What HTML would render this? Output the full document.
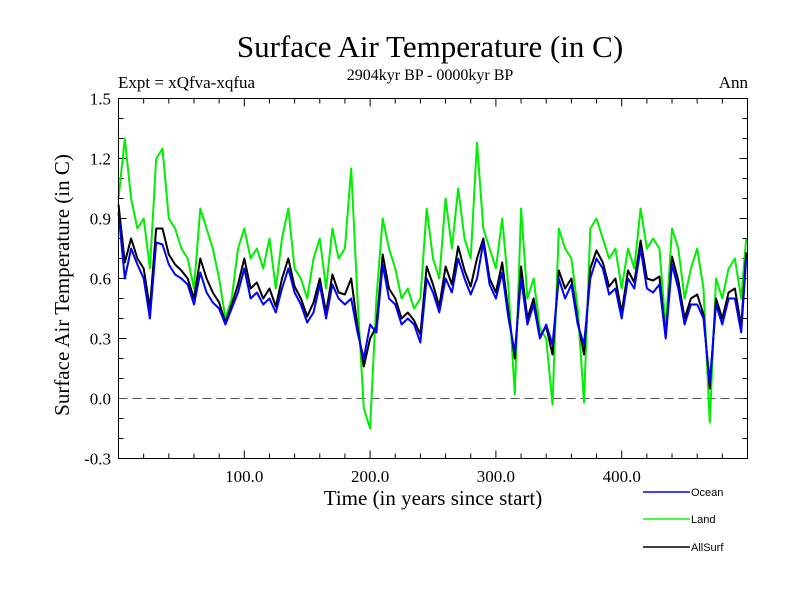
<!DOCTYPE html>
<html><head><meta charset="utf-8"><style>
body{margin:0;background:#fff;}
svg{display:block;}
.serif{font-family:"Liberation Serif",serif;fill:#000;}
.sans{font-family:"Liberation Sans",sans-serif;fill:#000;}
</style></head><body>
<svg id="chart" width="800" height="600" viewBox="0 0 800 600">
<text class="serif" x="430" y="57" font-size="31" text-anchor="middle">Surface Air Temperature (in C)</text>
<text class="serif" x="118" y="88" font-size="17">Expt = xQfva-xqfua</text>
<text class="serif" x="430" y="80" font-size="16" text-anchor="middle">2904kyr BP - 0000kyr BP</text>
<text class="serif" x="748" y="88" font-size="17" text-anchor="end">Ann</text>
<text class="serif" x="0" y="0" font-size="21" text-anchor="middle" transform="translate(69,285) rotate(-90)">Surface Air Temperature (in C)</text>
<text class="serif" x="433" y="505" font-size="21" text-anchor="middle">Time (in years since start)</text>
<g id="ticks"></g>
<g id="series"></g>
<rect x="118.5" y="98.5" width="629" height="360" fill="none" stroke="#000" stroke-width="1"/>
<g>
<line x1="643" y1="492" x2="690" y2="492" stroke="#0000ff" stroke-width="1.5"/>
<text class="sans" x="691" y="496" font-size="11">Ocean</text>
<line x1="643" y1="519" x2="690" y2="519" stroke="#00ff00" stroke-width="1.5"/>
<text class="sans" x="691" y="523" font-size="11">Land</text>
<line x1="643" y1="547" x2="690" y2="547" stroke="#000" stroke-width="1.5"/>
<text class="sans" x="691" y="551" font-size="11">AllSurf</text>
</g>
</svg>
<script>
const years = [0,5,10,15,20,25,30,35,40,45,50,55,60,65,70,75,80,85,90,95,100,105,110,115,120,125,130,135,140,145,150,155,160,165,170,175,180,185,190,195,200,205,210,215,220,225,230,235,240,245,250,255,260,265,270,275,280,285,290,295,300,305,310,315,320,325,330,335,340,345,350,355,360,365,370,375,380,385,390,395,400,405,410,415,420,425,430,435,440,445,450,455,460,465,470,475,480,485,490,495,499];
const ocean = [0.93,0.6,0.75,0.67,0.6,0.4,0.78,0.77,0.67,0.62,0.6,0.57,0.47,0.63,0.53,0.48,0.45,0.37,0.45,0.53,0.65,0.5,0.53,0.47,0.5,0.43,0.55,0.65,0.53,0.47,0.38,0.43,0.57,0.4,0.57,0.5,0.47,0.5,0.33,0.2,0.37,0.33,0.67,0.5,0.47,0.37,0.4,0.37,0.28,0.6,0.53,0.43,0.6,0.53,0.7,0.6,0.52,0.6,0.78,0.57,0.5,0.63,0.4,0.23,0.6,0.37,0.47,0.3,0.37,0.27,0.6,0.5,0.57,0.37,0.27,0.6,0.7,0.65,0.52,0.55,0.4,0.6,0.55,0.75,0.55,0.53,0.57,0.3,0.67,0.55,0.37,0.47,0.47,0.4,0.08,0.47,0.37,0.5,0.5,0.33,0.7];
const land = [1.0,1.3,1.0,0.85,0.9,0.65,1.2,1.25,0.9,0.85,0.75,0.7,0.55,0.95,0.85,0.75,0.6,0.4,0.5,0.75,0.85,0.7,0.75,0.65,0.8,0.55,0.8,0.95,0.65,0.6,0.5,0.7,0.8,0.55,0.85,0.7,0.75,1.15,0.5,-0.05,-0.15,0.5,0.9,0.75,0.65,0.5,0.55,0.45,0.5,0.95,0.7,0.6,1.0,0.75,1.05,0.8,0.7,1.28,0.85,0.75,0.65,0.9,0.55,0.02,0.95,0.5,0.6,0.35,0.3,-0.03,0.85,0.75,0.7,0.45,-0.02,0.85,0.9,0.8,0.7,0.75,0.55,0.75,0.65,0.95,0.75,0.8,0.75,0.35,0.85,0.75,0.5,0.65,0.75,0.55,-0.12,0.6,0.5,0.65,0.7,0.5,0.8];
const allsurf = [0.97,0.68,0.8,0.7,0.65,0.45,0.85,0.85,0.72,0.67,0.64,0.6,0.5,0.7,0.6,0.53,0.48,0.38,0.47,0.57,0.7,0.55,0.58,0.5,0.55,0.46,0.6,0.7,0.56,0.5,0.41,0.48,0.6,0.43,0.62,0.53,0.52,0.6,0.36,0.16,0.3,0.36,0.72,0.55,0.5,0.4,0.43,0.39,0.32,0.66,0.57,0.46,0.66,0.57,0.76,0.64,0.56,0.7,0.8,0.6,0.53,0.68,0.43,0.2,0.66,0.4,0.5,0.31,0.36,0.22,0.64,0.55,0.6,0.39,0.22,0.65,0.74,0.68,0.56,0.6,0.43,0.64,0.58,0.79,0.6,0.59,0.61,0.31,0.71,0.59,0.4,0.5,0.52,0.42,0.05,0.5,0.4,0.53,0.55,0.36,0.73];
const yTicks = [-0.3,0.0,0.3,0.6,0.9,1.2,1.5];
const yTickLabels = ["-0.3","0.0","0.3","0.6","0.9","1.2","1.5"];
const xTicks = [100,200,300,400];
const xTickLabels = ["100.0","200.0","300.0","400.0"];

const X0=118.5,X1=747.5,Y0=458.5,Y1=98.5;
const xs = v => X0 + (v-0)/(500-0)*(X1-X0);
const ys = v => Y0 - (v+0.3)/(1.8)*(Y0-Y1);
const NS="http://www.w3.org/2000/svg";
const tg=document.getElementById('ticks');
function ln(x1,y1,x2,y2,stroke,w,dash){
  const l=document.createElementNS(NS,'line');
  l.setAttribute('x1',x1);l.setAttribute('y1',y1);l.setAttribute('x2',x2);l.setAttribute('y2',y2);
  l.setAttribute('stroke',stroke);l.setAttribute('stroke-width',w);
  if(dash)l.setAttribute('stroke-dasharray',dash);
  return l;
}
// y minor ticks every 0.1
for(let i=-3;i<=15;i++){
  const v=i/10, y=ys(v), major=(i%3===0);
  const len=major?8:5;
  const a=ln(X0,y,X0+len,y,'#000',1);
  
  
  tg.appendChild(a);
  const b=ln(X1,y,X1-len,y,'#000',1);
  
  
  tg.appendChild(b);
}
for(let yr=20;yr<500;yr+=20){
  const x=xs(yr), major=(yr%100===0), len=major?8:5;
  const a=ln(x,Y0,x,Y0-len,'#000',1);
  
  
  tg.appendChild(a);
  const b=ln(x,Y1,x,Y1+len,'#000',1);
  
  
  tg.appendChild(b);
}
yTicks.forEach((v,i)=>{
  const t=document.createElementNS(NS,'text');
  t.setAttribute('x',111);t.setAttribute('y',ys(v)+6);
  t.setAttribute('text-anchor','end');t.setAttribute('font-size','17');t.setAttribute('class','serif');
  t.textContent=yTickLabels[i];
  
  
  tg.appendChild(t);
});
xTicks.forEach((v,i)=>{
  const t=document.createElementNS(NS,'text');
  t.setAttribute('x',xs(v));t.setAttribute('y',482);
  t.setAttribute('text-anchor','middle');t.setAttribute('font-size','17');t.setAttribute('class','serif');
  t.textContent=xTickLabels[i];
  
  
  tg.appendChild(t);
});
const sg=document.getElementById('series');
const zero=ln(X0,ys(0),X1,ys(0),'#555',1,'9,5');


sg.appendChild(zero);
function series(vals,color,name){
  const p=document.createElementNS(NS,'polyline');
  p.setAttribute('points',vals.map((v,i)=>xs(years[i]).toFixed(1)+','+ys(v).toFixed(1)).join(' '));
  p.setAttribute('fill','none');p.setAttribute('stroke',color);p.setAttribute('stroke-width','2');
  p.setAttribute('stroke-linejoin','round');
  
  
  sg.appendChild(p);
}
series(land,'#00ee00','land-line');
series(allsurf,'#000000','allsurf-line');
series(ocean,'#0000ff','ocean-line');
</script>
</body></html>
